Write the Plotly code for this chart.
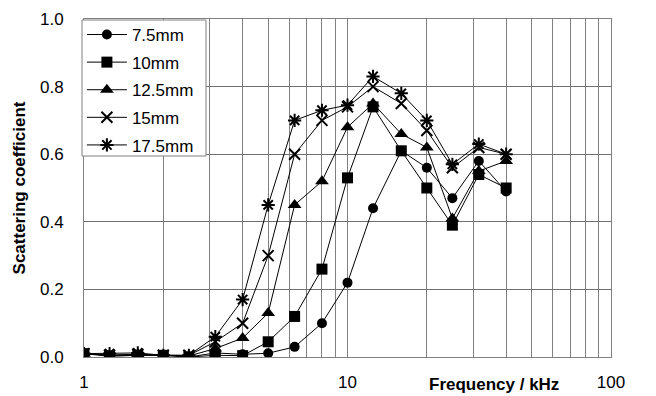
import plotly.graph_objects as go

freq = [1, 1.25, 1.6, 2, 2.5, 3.15, 4, 5, 6.3, 8, 10, 12.5, 16, 20, 25, 31.5, 40]
s75 = [0.01, 0.005, 0.005, 0.005, 0.0, 0.012, 0.008, 0.011, 0.03, 0.10, 0.22, 0.44, 0.61, 0.56, 0.47, 0.58, 0.49]
s10 = [0.01, 0.002, 0.005, 0.005, 0.0, 0.005, 0.004, 0.045, 0.12, 0.26, 0.53, 0.74, 0.61, 0.50, 0.39, 0.54, 0.50]
s125 = [0.01, 0.005, 0.008, 0.005, 0.003, 0.025, 0.056, 0.13, 0.45, 0.52, 0.68, 0.75, 0.66, 0.62, 0.41, 0.55, 0.58]
s15 = [0.01, 0.005, 0.008, 0.005, 0.005, 0.045, 0.10, 0.30, 0.60, 0.70, 0.74, 0.80, 0.75, 0.67, 0.56, 0.62, 0.60]
s175 = [0.01, 0.01, 0.012, 0.005, 0.005, 0.06, 0.17, 0.45, 0.70, 0.73, 0.745, 0.83, 0.78, 0.70, 0.57, 0.63, 0.60]

series_names = ["7.5mm", "10mm", "12.5mm", "15mm", "17.5mm"]
series_vals = [s75, s10, s125, s15, s175]
symbols = ["circle", "square", "triangle-up", "x-thin-open", "asterisk-open"]
sizes = [10, 11, 12, 11, 11]

y_ticks = [0, 0.2, 0.4, 0.6, 0.8, 1.0]
x_ticks = [1, 10, 100]
x_minor = [2, 3, 4, 5, 6, 7, 8, 9, 20, 30, 40, 50, 60, 70, 80, 90]

FONT = "Liberation Sans, Arial, sans-serif"
GRID = "#808080"

fig = go.Figure()
for name, vals, sym, sz in zip(series_names, series_vals, symbols, sizes):
    fig.add_trace(go.Scatter(
        x=freq, y=vals, name=name, mode="lines+markers", legendgroup=name,
        line=dict(color="black", width=1),
        marker=dict(symbol=sym, size=sz, color="black",
                    line=dict(color="black", width=2 if "open" in sym else 0)),
    ))

fig.update_layout(
    width=656, height=396,
    margin=dict(l=84, r=45, t=19, b=39),
    paper_bgcolor="white", plot_bgcolor="white",
    font=dict(family=FONT, size=17, color="black"),
    showlegend=True,
    legend=dict(x=-0.004, y=1.006, xanchor="left", yanchor="top",
                bgcolor="rgba(0,0,0,0)", borderwidth=0,
                font=dict(family=FONT, size=17), traceorder="grouped",
                tracegroupgap=2.5, itemwidth=40),
    xaxis=dict(type="log", range=[0, 2], tickvals=x_ticks, ticktext=["1", "10", "100"],
               showgrid=True, gridcolor=GRID, gridwidth=1,
               minor=dict(tickvals=x_minor, showgrid=True, gridcolor=GRID, gridwidth=1, ticklen=0),
               showline=True, linecolor=GRID, linewidth=1, mirror=True,
               ticks="", ticklabelstandoff=10, zeroline=False, automargin=False),
    yaxis=dict(range=[0, 1], tickvals=y_ticks, tickformat=".1f",
               showgrid=True, gridcolor="#707070", gridwidth=1,
               showline=True, linecolor=GRID, linewidth=1, mirror=True,
               ticks="", ticklabelstandoff=16, zeroline=False, automargin=False,
               title=dict(text="<b>Scattering coefficient</b>", standoff=10,
                          font=dict(family=FONT, size=17))),
)

# legend box
fig.add_shape(type="rect", xref="paper", yref="paper",
              x0=(82 - 84) / 527, x1=(206 - 84) / 527,
              y0=(357 - 156) / 338, y1=(357 - 20) / 338,
              fillcolor="white", line=dict(color=GRID, width=1), layer="above")

fig.add_annotation(text="<b>Frequency / kHz</b>", xref="paper", yref="paper",
                   x=(494 - 84) / 527, y=-0.082, xanchor="center", yanchor="middle",
                   showarrow=False, font=dict(family=FONT, size=17))

fig.write_html("out.html", config={"displayModeBar": False},
               post_script="document.body.style.margin='0';document.body.style.overflow='hidden';")
